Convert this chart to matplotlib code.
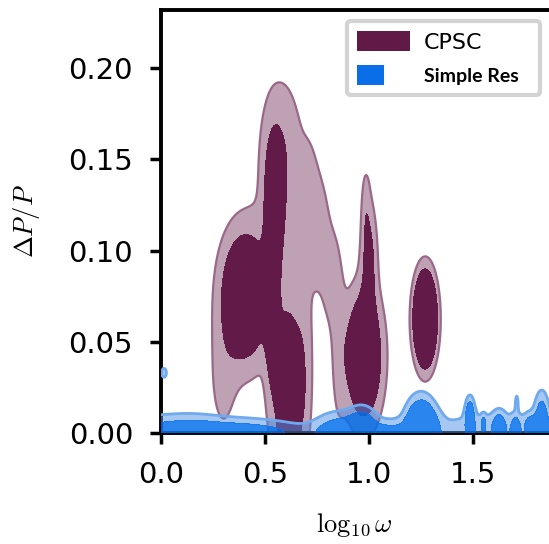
import numpy as np
import matplotlib.pyplot as plt
from matplotlib.patches import Patch, Rectangle
from matplotlib.legend_handler import HandlerPatch

plt.rcParams['mathtext.fontset'] = 'cm'

# density blobs: centre x, centre y, spread x, spread y, weight
cpsc_x  = [0.40, 0.545, 0.57, 0.61, 0.685, 0.53, 0.60, 0.71, 0.76, 0.82, 0.975, 1.0, 0.985, 1.27, 0.30, 0.855]
cpsc_y  = [0.075, 0.125, 0.155, 0.02, 0.03, 0.075, 0.11, 0.128, 0.11, 0.085, 0.042, 0.095, 0.125, 0.0625, 0.03, 0.045]
cpsc_sx = [0.07, 0.028, 0.06, 0.045, 0.03, 0.022, 0.10, 0.03, 0.035, 0.03, 0.055, 0.025, 0.015, 0.031, 0.05, 0.025]
cpsc_sy = [0.022, 0.022, 0.025, 0.03, 0.03, 0.035, 0.05, 0.02, 0.02, 0.018, 0.022, 0.02, 0.015, 0.0142, 0.025, 0.03]
cpsc_w  = [3.0, 1.7, 0.65, 2.0, 0.6, 1.4, 0.5, 0.5, 0.6, 0.6, 3.0, 1.3, 0.5, 6.5, 0.5, 0.5]
cpsc_levels = [0.35, 1.0]

res_x  = [0.0, 0.15, 0.45, 0.85, 0.97, 1.1, 1.25, 1.6, 1.485, 1.55, 1.625, 1.705, 1.71, 1.775, 1.83, 1.86, 0.015]
res_y  = [0.0, 0.0, 0.0, 0.0, 0.0, 0.0, 0.0, 0.0, 0.01, 0.006, 0.005, 0.003, 0.017, 0.005, 0.01, 0.0, 0.033]
res_sx = [0.3, 0.1, 0.2, 0.08, 0.05, 0.06, 0.05, 0.25, 0.015, 0.008, 0.02, 0.015, 0.006, 0.02, 0.025, 0.02, 0.012]
res_sy = [0.007, 0.008, 0.005, 0.008, 0.009, 0.005, 0.012, 0.009, 0.007, 0.003, 0.005, 0.005, 0.004, 0.004, 0.01, 0.005, 0.0025]
res_w  = [1.25, 0.3, 1.05, 1.4, 1.8, 1.15, 3.0, 0.9, 1.5, 0.6, 0.9, 0.8, 0.6, 0.8, 1.2, 0.6, 0.8]
res_levels = [0.5, 1.0]


def density(X, Y, cx, cy, sx, sy, w):
    Z = np.zeros_like(X)
    for a, b, c, d, e in zip(cx, cy, sx, sy, w):
        Z += e * np.exp(-0.5 * ((X - a) / c) ** 2 - 0.5 * ((Y - b) / d) ** 2)
    return Z


xs = np.linspace(0, 1.9, 800)
ys = np.linspace(0, 0.24, 600)
X, Y = np.meshgrid(xs, ys)
Zc = density(X, Y, cpsc_x, cpsc_y, cpsc_sx, cpsc_sy, cpsc_w)
Zr = density(X, Y, res_x, res_y, res_sx, res_sy, res_w)

fig = plt.figure(figsize=(5.49, 5.44), dpi=100)
ax = fig.add_axes([0.293, 0.204, 0.707, 0.778])

ax.contourf(X, Y, Zc, levels=cpsc_levels + [Zc.max() + 1],
            colors=['#bfa1b4', '#621a48'], zorder=1)
ax.contour(X, Y, Zc, levels=cpsc_levels[:1], colors='#9a6888', linewidths=1.6, zorder=2)

ax.contourf(X, Y, Zr, levels=res_levels + [Zr.max() + 1],
            colors=[(0.3, 0.568, 0.906, 0.5), (0.02, 0.44, 0.92, 0.85)], zorder=3)
ax.contour(X, Y, Zr, levels=res_levels[:1], colors='#6fa9ee', linewidths=2, zorder=4)

ax.set_xlim(0, 1.865)
ax.set_ylim(0, 0.232)
ax.set_xticks([0.0, 0.5, 1.0, 1.5])
ax.set_yticks([0.0, 0.05, 0.10, 0.15, 0.20])
ax.set_xticklabels(['0.0', '0.5', '1.0', '1.5'])
ax.set_yticklabels(['0.00', '0.05', '0.10', '0.15', '0.20'])
ax.tick_params(labelsize=21, width=2.5, length=8, pad=12)
for s in ['left', 'bottom', 'top']:
    ax.spines[s].set_linewidth(2.8)
ax.spines['right'].set_visible(False)

ax.set_xlabel(r'$\log_{10}\omega$', fontsize=19, labelpad=16)
ax.set_ylabel(r'$\Delta P/P$', fontsize=19, labelpad=19)


def half_patch(legend, orig_handle, xdescent, ydescent, width, height, fontsize):
    return Rectangle((-xdescent, -ydescent), width / 2, height)


handles = [Patch(facecolor='#611a47'), Patch(facecolor='#0a6ee8')]
leg = fig.legend(handles, ['CPSC', 'Simple Res'], loc='upper left',
                 bbox_to_anchor=(347 / 549, 1 - 31 / 544, 193 / 549, 10 / 544),
                 mode='expand', borderaxespad=0,
                 fontsize=16, handlelength=2.4, handleheight=1.0,
                 handletextpad=0.6, borderpad=0.45, labelspacing=0.55,
                 handler_map={handles[1]: HandlerPatch(patch_func=half_patch)},
                 framealpha=1, fancybox=True)
leg.get_frame().set_edgecolor('#d3d3d3')
leg.get_frame().set_linewidth(3)
t = leg.get_texts()[1]
t.set_fontweight('bold')
t.set_family(['Lato', 'DejaVu Sans'])
t.set_fontsize(14)

fig.savefig('out.png', dpi=100)
